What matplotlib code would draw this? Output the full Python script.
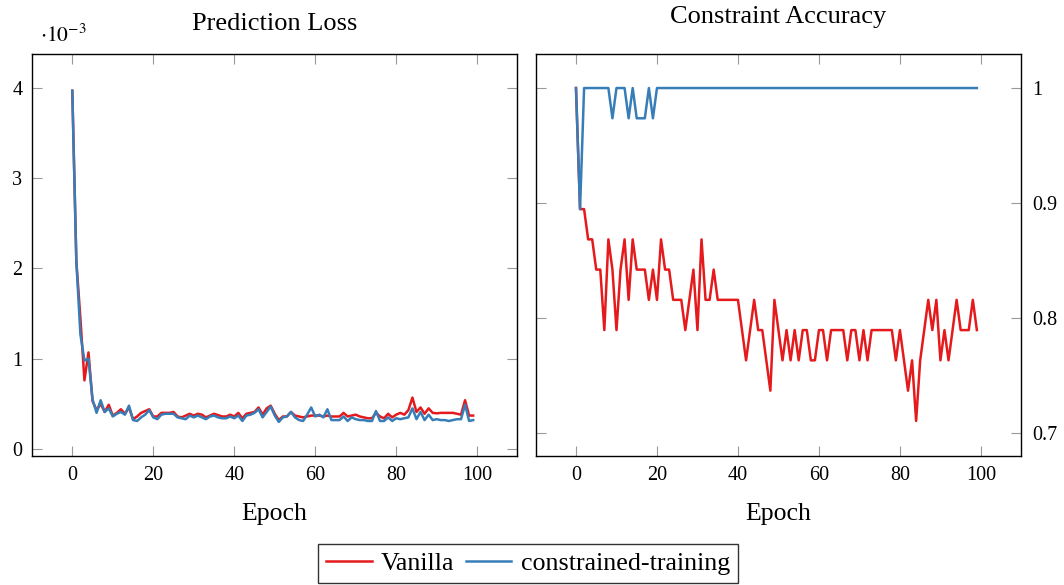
import matplotlib
matplotlib.use('Agg')
import matplotlib.pyplot as plt

plt.rcParams['font.family'] = ['Liberation Serif', 'DejaVu Serif']
plt.rcParams['mathtext.fontset'] = 'stix'

epochs = list(range(100))

# Prediction loss, in units of 1e-3
loss_vanilla = [3.97, 2.08, 1.45, 0.76, 1.07, 0.53, 0.43, 0.50, 0.41, 0.49,
                0.37, 0.40, 0.44, 0.39, 0.46, 0.33, 0.36, 0.40, 0.42, 0.44,
                0.36, 0.36, 0.40, 0.40, 0.40, 0.41, 0.36, 0.35, 0.37, 0.39,
                0.37, 0.39, 0.38, 0.35, 0.37, 0.39, 0.375, 0.36, 0.36, 0.38,
                0.36, 0.40, 0.34, 0.39, 0.40, 0.41, 0.46, 0.38, 0.45, 0.48,
                0.39, 0.32, 0.36, 0.36, 0.41, 0.37, 0.36, 0.35, 0.36, 0.37,
                0.37, 0.37, 0.36, 0.37, 0.36, 0.36, 0.36, 0.40, 0.36, 0.37,
                0.38, 0.36, 0.35, 0.34, 0.34, 0.40, 0.36, 0.34, 0.39, 0.35,
                0.38, 0.40, 0.38, 0.43, 0.57, 0.41, 0.46, 0.39, 0.45, 0.40,
                0.395, 0.40, 0.40, 0.40, 0.40, 0.39, 0.38, 0.54, 0.37, 0.37]

loss_constrained = [3.97, 2.08, 1.27, 0.98, 1.00, 0.55, 0.40, 0.54, 0.41, 0.45,
                    0.36, 0.39, 0.41, 0.38, 0.48, 0.32, 0.31, 0.35, 0.38, 0.43,
                    0.35, 0.33, 0.38, 0.39, 0.39, 0.39, 0.35, 0.34, 0.33, 0.37,
                    0.35, 0.37, 0.35, 0.33, 0.36, 0.37, 0.35, 0.34, 0.34, 0.36,
                    0.34, 0.37, 0.31, 0.37, 0.38, 0.40, 0.44, 0.35, 0.41, 0.47,
                    0.37, 0.30, 0.35, 0.36, 0.41, 0.35, 0.32, 0.31, 0.38, 0.46,
                    0.36, 0.38, 0.35, 0.44, 0.32, 0.32, 0.32, 0.36, 0.31, 0.35,
                    0.33, 0.32, 0.32, 0.31, 0.31, 0.42, 0.31, 0.31, 0.35, 0.31,
                    0.34, 0.33, 0.34, 0.35, 0.45, 0.33, 0.41, 0.32, 0.38, 0.32,
                    0.33, 0.32, 0.32, 0.31, 0.32, 0.33, 0.33, 0.49, 0.31, 0.32]

acc_vanilla = [1.0, 0.8947, 0.8947, 0.8684, 0.8684, 0.8421, 0.8421, 0.7895, 0.8684, 0.8421,
               0.7895, 0.8421, 0.8684, 0.8158, 0.8684, 0.8421, 0.8421, 0.8421, 0.8158, 0.8421,
               0.8158, 0.8684, 0.8421, 0.8421, 0.8158, 0.8158, 0.8158, 0.7895, 0.8158, 0.8421,
               0.7895, 0.8684, 0.8158, 0.8158, 0.8421, 0.8158, 0.8158, 0.8158, 0.8158, 0.8158,
               0.8158, 0.7895, 0.7632, 0.7895, 0.8158, 0.7895, 0.7895, 0.7632, 0.7368, 0.8158,
               0.7895, 0.7632, 0.7895, 0.7632, 0.7895, 0.7632, 0.7895, 0.7895, 0.7632, 0.7632,
               0.7895, 0.7895, 0.7632, 0.7895, 0.7895, 0.7895, 0.7895, 0.7632, 0.7895, 0.7895,
               0.7632, 0.7895, 0.7632, 0.7895, 0.7895, 0.7895, 0.7895, 0.7895, 0.7895, 0.7632,
               0.7895, 0.7632, 0.7368, 0.7632, 0.7105, 0.7632, 0.7895, 0.8158, 0.7895, 0.8158,
               0.7632, 0.7895, 0.7632, 0.7895, 0.8158, 0.7895, 0.7895, 0.7895, 0.8158, 0.7895]

acc_constrained = [1.0, 0.8947, 1.0, 1.0, 1.0, 1.0, 1.0, 1.0, 1.0, 0.9737,
                   1.0, 1.0, 1.0, 0.9737, 1.0, 0.9737, 0.9737, 0.9737, 1.0, 0.9737] + [1.0] * 80

x_ticks = [0, 20, 40, 60, 80, 100]
loss_ticks = [0, 1, 2, 3, 4]
acc_ticks = [0.7, 0.8, 0.9, 1.0]
acc_ticklabels = ['0.7', '0.8', '0.9', '1']

RED = '#E41A1C'
BLUE = '#377EB8'

W, H = 1064, 585
fig = plt.figure(figsize=(W / 100, H / 100), dpi=100)
ax1 = fig.add_axes([32 / W, 1 - 456 / H, (517.3 - 32) / W, (456 - 54) / H])
ax2 = fig.add_axes([535.7 / W, 1 - 456 / H, (1021 - 535.7) / W, (456 - 54) / H])

l1, = ax1.plot(epochs, loss_vanilla, color=RED, lw=1.8, label='Vanilla')
l2, = ax1.plot(epochs, loss_constrained, color=BLUE, lw=1.8, label='constrained-training')
ax2.plot(epochs, acc_vanilla, color=RED, lw=1.8)
ax2.plot(epochs, acc_constrained, color=BLUE, lw=1.8)

for ax in (ax1, ax2):
    ax.set_xlim(-9.95, 109.9)
    ax.set_xticks(x_ticks)
    ax.tick_params(direction='in', length=7, width=0.8, color='0.6',
                   top=True, right=True, labelsize=14.5, pad=7)
    for s in ax.spines.values():
        s.set_linewidth(1.0)
        s.set_color('black')
    ax.set_xlabel('Epoch', fontsize=18.5, labelpad=13)

ax1.set_ylim(-0.078, 4.377)
ax1.set_yticks(loss_ticks)
ax1.set_title('Prediction Loss', fontsize=19, pad=17)
fig.text(40 / W, 1 - 36 / H, r'$\cdot 10^{-3}$', fontsize=15.5, va='center', ha='left')

ax2.set_ylim(0.68, 1.0296)
ax2.set_yticks(acc_ticks)
ax2.set_yticklabels(acc_ticklabels)
ax2.tick_params(axis='y', labelleft=False, labelright=True, pad=8)
ax2.set_title('Constraint Accuracy', fontsize=19, pad=22)

leg = fig.legend(handles=[l1, l2], loc='center', bbox_to_anchor=(528 / W, 1 - 563.5 / H),
                 ncol=2, fontsize=18.7, frameon=True, fancybox=False, edgecolor='black',
                 handlelength=1.75, handletextpad=0.35, columnspacing=0.45,
                 borderpad=0.3, borderaxespad=0)
leg.get_frame().set_linewidth(1.0)

fig.savefig('out.png', dpi=100)
